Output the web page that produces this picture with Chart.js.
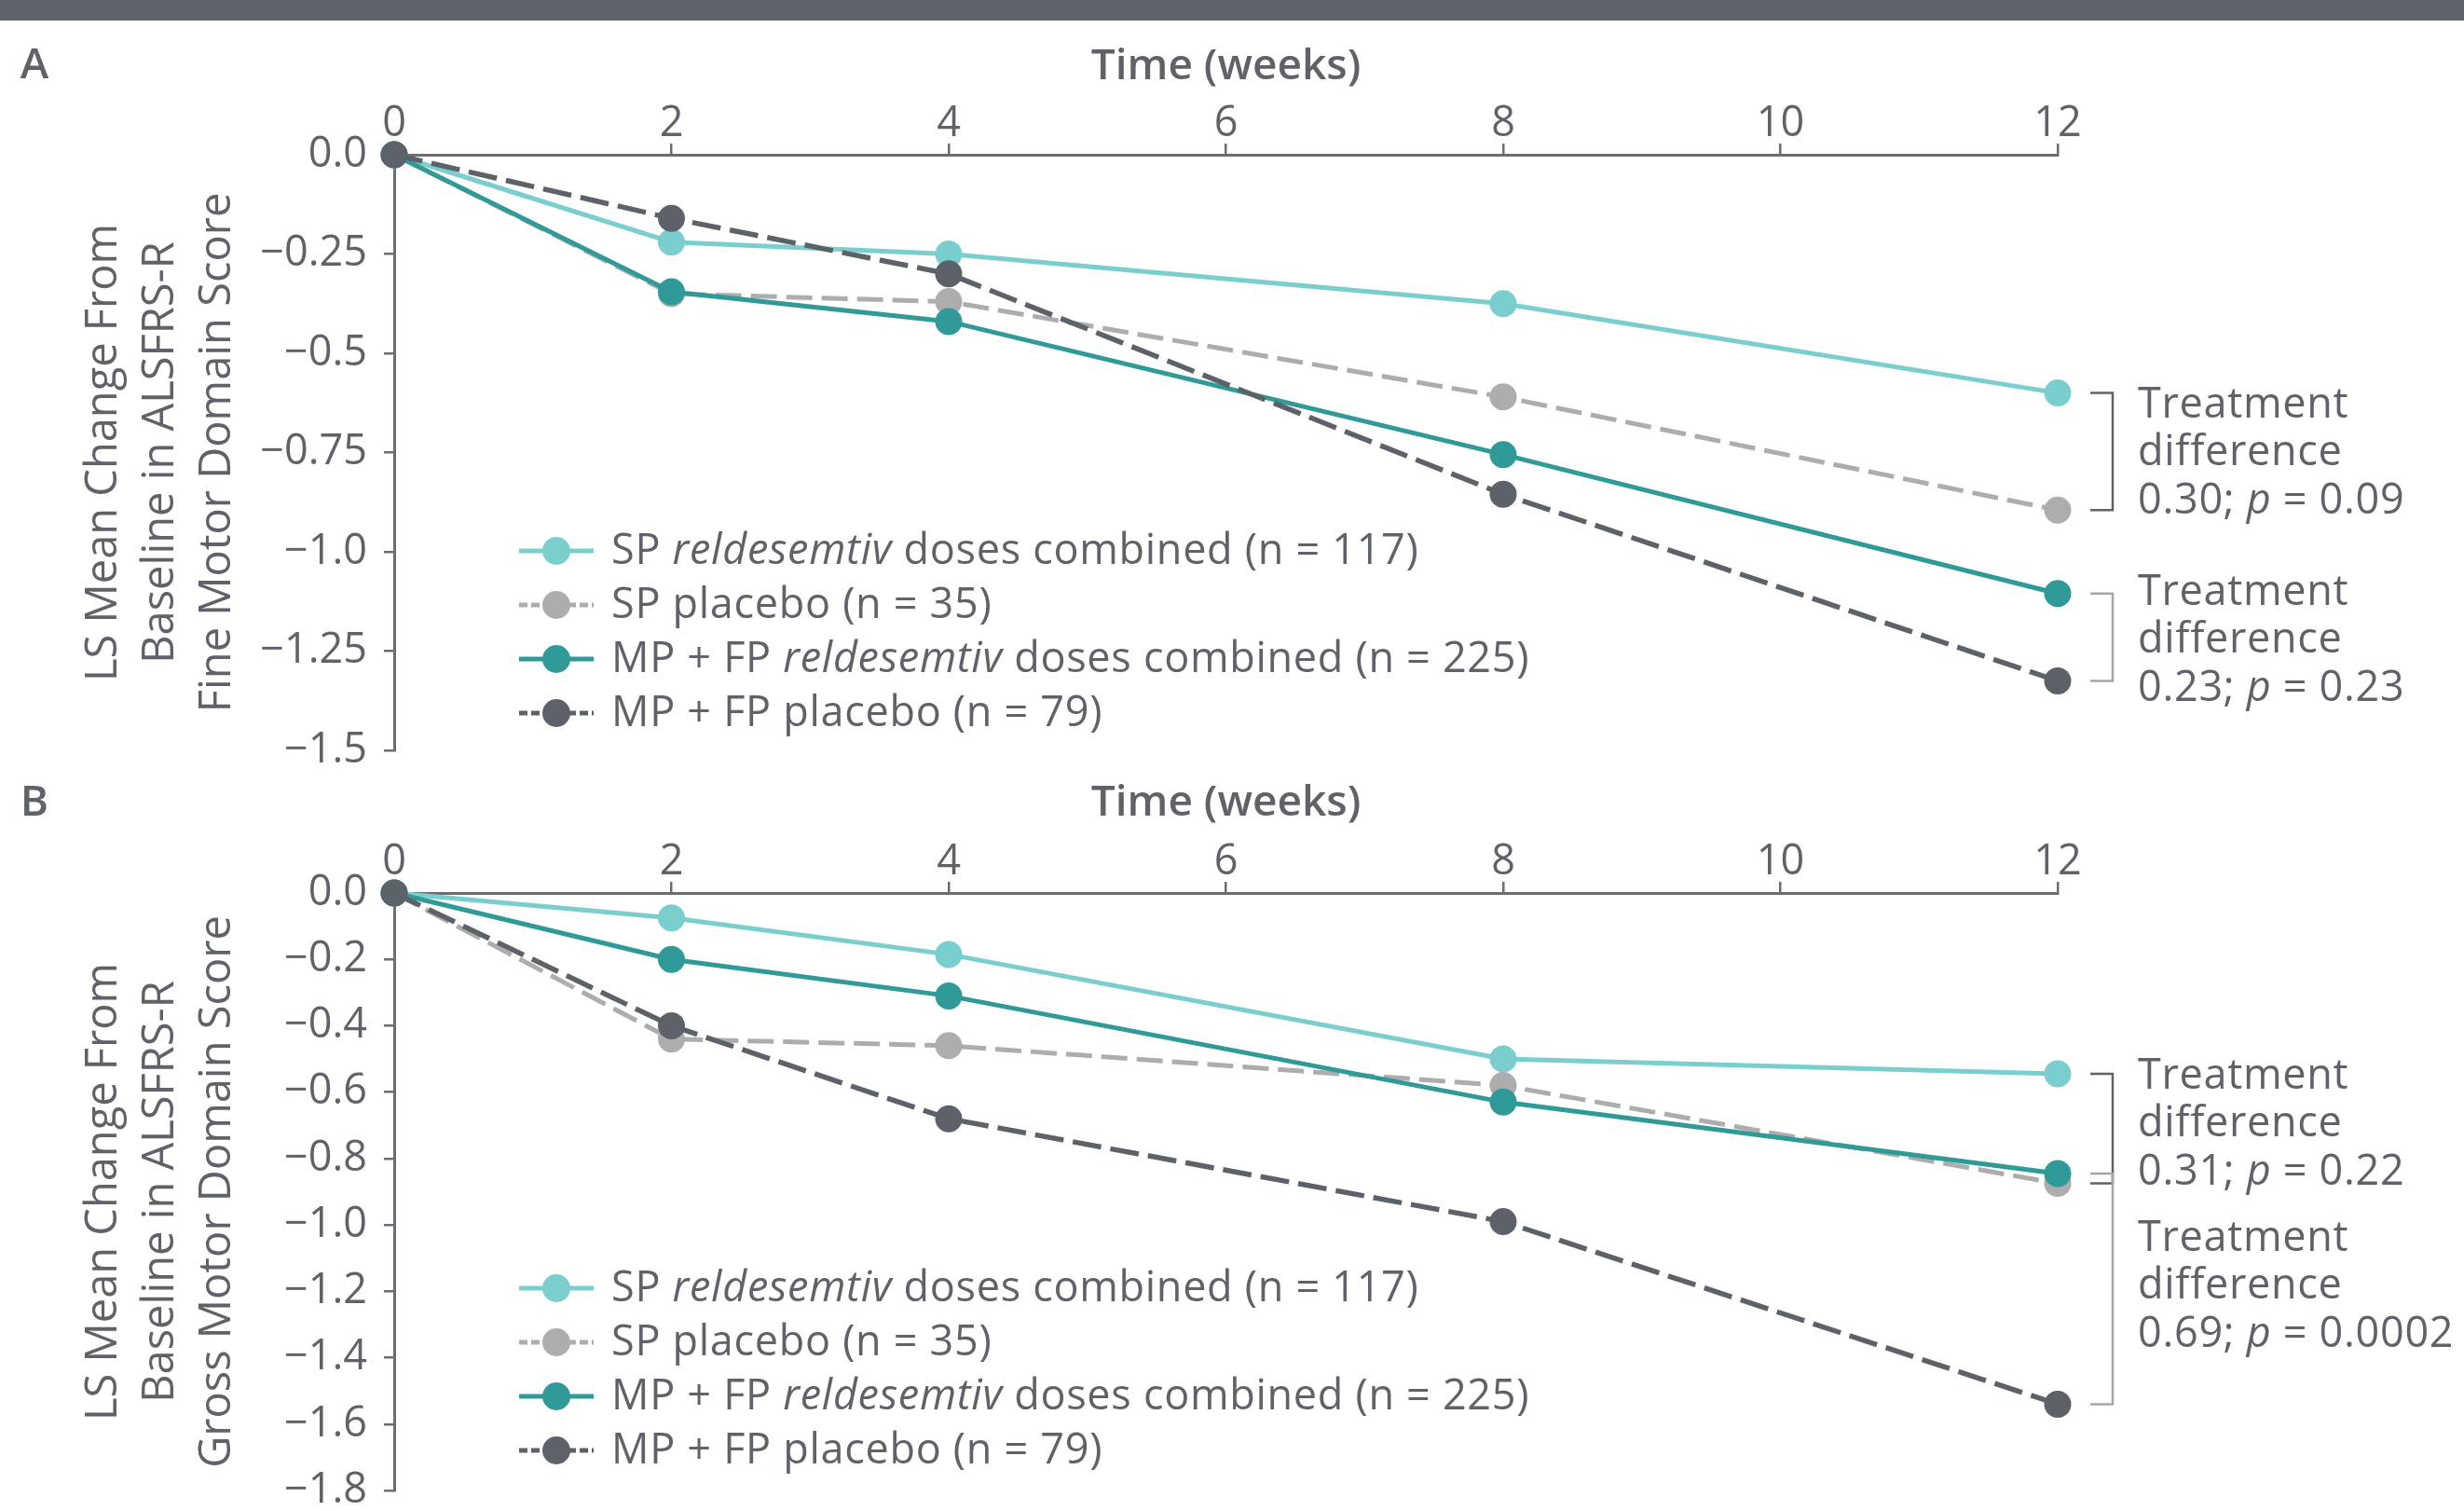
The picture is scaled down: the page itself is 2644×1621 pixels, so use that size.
<!DOCTYPE html>
<html>
<head>
<meta charset="utf-8">
<script src="https://cdn.jsdelivr.net/npm/chart.js@4/dist/chart.umd.min.js"></script>
<style>
html,body{margin:0;padding:0;background:#fff;}
#wrap{position:relative;width:2644px;height:1621px;overflow:hidden;background:#fff;}
#bar{position:absolute;left:0;top:0;width:2644px;height:22px;background:#5f6369;z-index:5;}
#ca{position:absolute;left:0;top:0;}
#cb{position:absolute;left:0;top:830px;}
</style>
</head>
<body>
<div id="wrap">
  <div id="bar"></div>
  <canvas id="ca" width="2644" height="850"></canvas>
  <canvas id="cb" width="2644" height="830"></canvas>
</div>
<script>
// ---------------- DATA ----------------
const weeks = [0, 2, 4, 8, 12];
const xTickValues = [0, 2, 4, 6, 8, 10, 12];

// Panel A: Fine Motor Domain
const fineSpReldesemtiv = [0, -0.22, -0.25, -0.375, -0.60];
const fineSpPlacebo     = [0, -0.35, -0.37, -0.61, -0.895];
const fineMpFpReldesemtiv = [0, -0.345, -0.42, -0.755, -1.105];
const fineMpFpPlacebo   = [0, -0.16, -0.30, -0.855, -1.325];
const fineYTickValues = [0, -0.25, -0.5, -0.75, -1.0, -1.25, -1.5];
const fineYTickLabels = ['0.0', '\u22120.25', '\u22120.5', '\u22120.75', '\u22121.0', '\u22121.25', '\u22121.5'];

// Panel B: Gross Motor Domain
const grossSpReldesemtiv = [0, -0.075, -0.185, -0.50, -0.545];
const grossSpPlacebo     = [0, -0.44, -0.46, -0.58, -0.875];
const grossMpFpReldesemtiv = [0, -0.20, -0.31, -0.63, -0.845];
const grossMpFpPlacebo   = [0, -0.40, -0.68, -0.99, -1.54];
const grossYTickValues = [0, -0.2, -0.4, -0.6, -0.8, -1.0, -1.2, -1.4, -1.6, -1.8];
const grossYTickLabels = ['0.0', '\u22120.2', '\u22120.4', '\u22120.6', '\u22120.8', '\u22121.0', '\u22121.2', '\u22121.4', '\u22121.6', '\u22121.8'];

// Legend labels (*...* = italic)
const legendLabels = [
  'SP *reldesemtiv* doses combined (n = 117)',
  'SP placebo (n = 35)',
  'MP + FP *reldesemtiv* doses combined (n = 225)',
  'MP + FP placebo (n = 79)'
];
const xTitle = 'Time (weeks)';
const fineYTitle = ['LS Mean Change From', 'Baseline in ALSFRS-R', 'Fine Motor Domain Score'];
const grossYTitle = ['LS Mean Change From', 'Baseline in ALSFRS-R', 'Gross Motor Domain Score'];
const fineDiffTexts = [
  ['Treatment', 'difference', '0.30; *p* = 0.09'],
  ['Treatment', 'difference', '0.23; *p* = 0.23']
];
const grossDiffTexts = [
  ['Treatment', 'difference', '0.31; *p* = 0.22'],
  ['Treatment', 'difference', '0.69; *p* = 0.0002']
];

// ---------------- STYLE ----------------
const TEXT = '#5f6369';
const AXIS = '#6a6e74';
const FONT = '"Open Sans", "Noto Sans", sans-serif';
const seriesStyles = [
  {color: '#7acfce', dash: [], width: 5, order: 3},
  {color: '#adadad', dash: [28, 10], width: 5, order: 2},
  {color: '#2f9a98', dash: [], width: 5, order: 1},
  {color: '#5d626a', dash: [31, 10], width: 5.5, order: 0}
];

function drawRich(ctx, str, x, y, size, color) {
  const parts = str.split('*');
  let cx = x;
  ctx.fillStyle = color;
  ctx.textBaseline = 'middle';
  ctx.textAlign = 'left';
  try { ctx.letterSpacing = '0.7px'; } catch (e) {}
  parts.forEach((t, i) => {
    if (!t) return;
    ctx.font = (i % 2 === 1 ? 'italic ' : '') + size + 'px ' + FONT;
    ctx.fillText(t, cx, y);
    cx += ctx.measureText(t).width;
  });
  try { ctx.letterSpacing = '0px'; } catch (e) {}
}

function makeOverlay(p) {
  return {
    id: 'overlay' + p.letter,
    afterDraw(chart) {
      const ctx = chart.ctx;
      const xs = chart.scales.x, ys = chart.scales.y;
      ctx.save();
      // panel letter
      ctx.fillStyle = TEXT;
      ctx.font = '600 46px ' + FONT;
      ctx.textAlign = 'center';
      ctx.textBaseline = 'middle';
      ctx.fillText(p.letter, 37, p.letterY);
      // legend
      legendLabels.forEach((lab, k) => {
        const st = seriesStyles[k];
        const y = p.legendY + k * 58;
        ctx.strokeStyle = st.color;
        ctx.lineWidth = 5;
        ctx.setLineDash(st.dash.length ? [9, 4] : []);
        ctx.beginPath(); ctx.moveTo(557, y); ctx.lineTo(637, y); ctx.stroke();
        ctx.setLineDash([]);
        ctx.fillStyle = st.color;
        ctx.beginPath(); ctx.arc(597, y, 15, 0, Math.PI * 2); ctx.fill();
        drawRich(ctx, lab, 656, y + 1, 45, TEXT);
      });
      // brackets and treatment difference texts
      const last = weeks.length - 1;
      const xr = xs.getPixelForValue(weeks[last]);
      p.brackets.forEach((b, bi) => {
        const yT = ys.getPixelForValue(p.series[b.from][last]);
        const yB = ys.getPixelForValue(p.series[b.to][last]);
        ctx.strokeStyle = b.color;
        ctx.lineWidth = 2.5;
        ctx.beginPath();
        ctx.moveTo(xr + 35, yT); ctx.lineTo(xr + 59, yT); ctx.lineTo(xr + 59, yB); ctx.lineTo(xr + 35, yB);
        ctx.stroke();
        p.texts[bi].forEach((line, li) => {
          drawRich(ctx, line, xr + 86, b.textY + li * 51.5, 45, TEXT);
        });
      });
      ctx.restore();
    }
  };
}

function makeChart(canvas, p) {
  const datasets = p.series.map((s, k) => ({
    label: legendLabels[k].replace(/\*/g, ''),
    data: weeks.map((w, i) => ({x: w, y: s[i]})),
    borderColor: seriesStyles[k].color,
    backgroundColor: seriesStyles[k].color,
    pointBackgroundColor: seriesStyles[k].color,
    pointBorderColor: seriesStyles[k].color,
    pointBorderWidth: 0,
    pointRadius: 14.5,
    borderWidth: seriesStyles[k].width,
    borderDash: seriesStyles[k].dash,
    order: seriesStyles[k].order,
    tension: 0,
    fill: false,
    clip: false
  }));
  return new Chart(canvas, {
    type: 'line',
    data: {datasets},
    options: {
      responsive: false,
      animation: false,
      devicePixelRatio: 1,
      layout: {padding: {left: 0, top: 0, right: 436, bottom: p.bottomPad}},
      plugins: {legend: {display: false}, tooltip: {enabled: false}},
      scales: {
        x: {
          type: 'linear', position: 'top', min: 0, max: 12,
          afterBuildTicks: s => { s.ticks = xTickValues.map(v => ({value: v})); },
          afterFit: s => { s.height = p.xAxisH; },
          grid: {display: true, drawOnChartArea: false, drawTicks: true, tickLength: 12, color: AXIS, lineWidth: 2.5},
          border: {display: true, color: AXIS, width: 3},
          ticks: {color: TEXT, font: {family: FONT, size: 45, lineHeight: 1.2}, padding: -6, maxRotation: 0, autoSkip: false,
                  callback: v => String(v)},
          title: {display: true, text: xTitle, color: TEXT, font: {family: FONT, size: 46, weight: '600', lineHeight: 1.2},
                  padding: {top: p.xTitlePad, bottom: 0}}
        },
        y: {
          type: 'linear', position: 'left', min: p.yMin, max: 0,
          afterBuildTicks: s => { s.ticks = p.yTickValues.slice().reverse().map(v => ({value: v})); },
          afterFit: s => { s.width = 423; },
          grid: {display: true, drawOnChartArea: false, drawTicks: true, tickLength: 11, color: AXIS, lineWidth: 2.5},
          border: {display: true, color: AXIS, width: 3},
          ticks: {color: TEXT, font: {family: FONT, size: 45, lineHeight: 1.2}, padding: 18, autoSkip: false,
                  callback: v => {
                    const i = p.yTickValues.findIndex(t => Math.abs(t - v) < 1e-9);
                    return i >= 0 ? p.yTickLabels[i] : '';
                  }},
          title: {display: true, text: p.yTitle, color: TEXT, font: {family: FONT, size: 47, lineHeight: 1.3},
                  padding: {top: 81, bottom: 0}}
        }
      }
    },
    plugins: [makeOverlay(p)]
  });
}

const panelA = {
  letter: 'A', letterY: 71,
  series: [fineSpReldesemtiv, fineSpPlacebo, fineMpFpReldesemtiv, fineMpFpPlacebo],
  yMin: -1.5, yTickValues: fineYTickValues, yTickLabels: fineYTickLabels, yTitle: fineYTitle,
  xAxisH: 166, xTitlePad: 44, bottomPad: 44,
  legendY: 591,
  brackets: [
    {from: 0, to: 1, color: '#5f6369', textY: 435},
    {from: 2, to: 3, color: '#a3a6aa', textY: 636}
  ],
  texts: fineDiffTexts
};
const panelB = {
  letter: 'B', letterY: 32,
  series: [grossSpReldesemtiv, grossSpPlacebo, grossMpFpReldesemtiv, grossMpFpPlacebo],
  yMin: -1.8, yTickValues: grossYTickValues, yTickLabels: grossYTickLabels, yTitle: grossYTitle,
  xAxisH: 128, xTitlePad: 4, bottomPad: 61,
  legendY: 552,
  brackets: [
    {from: 0, to: 1, color: '#5f6369', textY: 325},
    {from: 2, to: 3, color: '#a3a6aa', textY: 499}
  ],
  texts: grossDiffTexts
};

makeChart(document.getElementById('ca'), panelA);
makeChart(document.getElementById('cb'), panelB);
</script>
</body>
</html>
